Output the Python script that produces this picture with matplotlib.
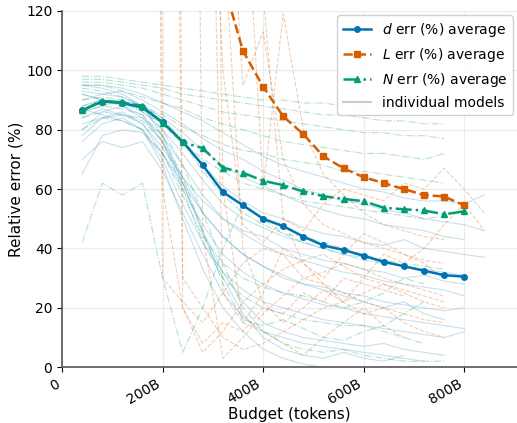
import matplotlib
matplotlib.use("Agg")
import matplotlib.pyplot as plt
from matplotlib.lines import Line2D
from matplotlib.ticker import FuncFormatter

# ---- data ----
budget = [40, 80, 120, 160, 200, 240, 280, 320, 360, 400,
          440, 480, 520, 560, 600, 640, 680, 720, 760, 800]

d_avg = [86.5, 89.5, 89.0, 87.5, 82.5, 76.0, 68.0, 59.0, 54.5, 50.0,
         47.5, 44.0, 41.0, 39.5, 37.5, 35.5, 34.0, 32.5, 31.0, 30.5]
L_avg = [2500, 1500, 900, 600, 400, 260, 180, 130, 106.5, 94.5,
         84.5, 78.5, 71.0, 67.0, 64.0, 62.0, 60.0, 58.0, 57.5, 54.5]
N_avg = [86.5, 89.8, 89.2, 88.0, 82.3, 75.8, 73.8, 67.2, 65.5, 62.8,
         61.3, 59.2, 57.6, 56.7, 55.9, 53.7, 53.2, 52.8, 51.5, 52.5]

# individual models (values on the 40B budget grid, starting at 40B)
d_models = [
    [95, 95, 94, 92, 89, 86, 83, 79, 75, 71, 68, 66, 64, 62, 60, 59, 57, 56, 56, 55, 58],
    [93, 92, 93, 90, 86, 82, 77, 73, 70, 66, 63, 60, 58, 56, 55, 53, 52, 50, 49, 48, 46],
    [90, 92, 91, 88, 84, 79, 73, 68, 64, 61, 58, 55, 53, 51, 50, 48, 47, 46, 44, 43],
    [88, 90, 89, 87, 82, 76, 68, 61, 56, 52, 50, 47, 45, 44, 42, 41, 43, 40, 39, 38, 37],
    [86, 88, 90, 86, 80, 72, 63, 55, 50, 47, 44, 42, 40, 38, 37, 36, 34, 33, 32, 31],
    [84, 87, 85, 84, 78, 68, 58, 50, 45, 41, 38, 36, 34, 32, 31, 29, 28, 27, 26, 24],
    [80, 86, 88, 84, 76, 64, 52, 44, 38, 34, 31, 28, 27, 25, 24, 22, 21, 20, 19, 20],
    [78, 84, 86, 82, 72, 60, 48, 38, 32, 28, 25, 23, 21, 20, 18, 17, 16, 15, 14, 13],
    [76, 82, 84, 80, 70, 55, 42, 32, 26, 22, 20, 18, 16, 15, 14, 13, 12, 11, 10, 12],
    [92, 90, 88, 85, 76, 62, 46, 32, 22, 15, 12, 10, 9, 8, 7, 8, 6, 5, 4],
    [70, 76, 74, 76, 66, 52, 38, 25, 17, 12, 10, 8, 7, 6, 5, 4, 3, 2],
    [87, 85, 83, 80, 68, 50, 33, 20, 12, 6, 3, 1, 0],
    [95, 94, 92, 88, 78, 62, 45, 30, 18, 10, 6, 4, 3, 5, 3, 2, 4],
    [82, 84, 85, 82, 74, 64, 56, 50, 46, 44, 40, 38, 36, 35, 33, 32, 30, 31, 29, 28],
    [65, 78, 80, 79, 72, 62, 52, 44, 38, 34, 30, 28, 26, 24, 22, 20, 22, 18, 16],
]
L_models = [
    [5000, 4000, 2500, 900, 30, 22, 15, 25, 35, 40, 38, 30, 28, 25, 22, 20, 18, 16, 15],
    [6000, 4000, 3000, 1500, 1200, 20, 5, 12, 22, 28, 33, 36, 38, 34, 30, 28, 25, 22, 20],
    [3000, 2500, 2000, 1500, 1000, 600, 45, 3, 10, 18, 24, 30, 32, 35, 33, 30, 28, 26, 24],
    [8000, 5000, 3000, 2000, 1500, 800, 500, 60, 15, 25, 40, 35, 30, 38, 45, 42, 38, 35, 30],
    [2000, 1500, 1200, 1000, 800, 500, 300, 200, 95, 113, 70, 55, 48, 45, 42, 40, 38, 36, 35],
    [2500, 2000, 1500, 1200, 900, 700, 500, 300, 180, 60, 119, 80, 65, 58, 52, 48, 46, 44, 43],
    [3000, 2000, 1500, 1000, 700, 400, 250, 150, 40, 22, 15, 20, 26, 22, 30, 38, 35, 40, 48, 55, 46],
    [1500, 1200, 1000, 800, 600, 400, 250, 100, 48, 42, 50, 46, 55, 60, 58, 56, 62, 60, 67, 60, 52],
    [4000, 3000, 2000, 1200, 600, 30, 20, 10, 6, 8, 12, 16, 20, 22, 25, 28, 26, 24, 22],
    [3000, 2000, 1500, 1000, 700, 450, 280, 180, 150, 125, 50, 35, 28, 22, 18, 20, 15, 12, 10],
    [2000, 1800, 1500, 1200, 900, 700, 300, 25, 15, 12, 8, 4, 10, 15, 20, 14, 10],
    [3000, 2500, 2000, 1500, 60, 20, 8, 15, 12, 20, 18, 25, 22, 30, 28, 26, 24],
]
N_models = [
    [98, 98, 97, 96, 95, 94, 93, 92, 91, 90, 90, 89, 89, 88, 88, 87, 87, 86, 86],
    [97, 97, 96, 95, 94, 92, 91, 90, 89, 88, 87, 86, 85, 85, 84, 83, 83, 82, 82],
    [96, 96, 95, 94, 92, 90, 88, 86, 85, 84, 83, 82, 81, 80, 79, 79, 78, 78, 77],
    [95, 95, 93, 91, 89, 87, 84, 82, 80, 78, 76, 75, 74, 73, 72, 72, 71, 70, 72],
    [94, 93, 91, 88, 85, 81, 78, 75, 73, 72, 70, 69, 68, 66, 66, 65, 64, 63, 62],
    [92, 90, 89, 86, 82, 76, 70, 66, 62, 60, 58, 56, 55, 54, 53, 52, 51, 50, 51],
    [42, 62, 58, 62, 30, 5, 20, 40, 55, 50, 45, 42, 40, 38, 36, 35, 34, 33],
    [88, 90, 89, 87, 80, 68, 52, 35, 20, 12, 8, 6, 5, 6, 4, 3, 2, 2, 2],
    [86, 88, 87, 85, 78, 64, 46, 28, 16, 14, 16, 13, 10, 9, 12, 14, 18, 22],
    [84, 86, 85, 83, 76, 60, 42, 30, 24, 20, 18, 16, 15, 14, 14, 12, 10, 8],
    [80, 84, 83, 80, 72, 58, 44, 35, 30, 27, 25, 24, 22, 20, 22, 25, 30, 28],
    [90, 91, 90, 88, 84, 76, 66, 58, 52, 48, 45, 44, 42, 40, 38, 36, 35, 34, 33],
]

x_ticks = [0, 200, 400, 600, 800]
y_ticks = [0, 20, 40, 60, 80, 100, 120]

# ---- style ----
c_d, c_L, c_N = "#0173B2", "#D55E00", "#029E73"

fig = plt.figure(figsize=(5.17, 4.23), dpi=100)
ax = fig.add_axes([0.12, 0.132, 0.88, 0.842])

grid = [40 * (i + 1) for i in range(25)]
for vals in d_models:
    ax.plot(grid[:len(vals)], vals, color=c_d, lw=0.8, alpha=0.22, ls="-")
for vals in L_models:
    ax.plot(grid[:len(vals)], vals, color=c_L, lw=0.8, alpha=0.3, ls="--")
for vals in N_models:
    ax.plot(grid[:len(vals)], vals, color=c_N, lw=0.8, alpha=0.3, ls="-.")

ax.plot(budget, d_avg, color=c_d, lw=1.8, marker="o", ms=4, ls="-",
        label="$d$ err (%) average", zorder=5)
ax.plot(budget, L_avg, color=c_L, lw=1.8, marker="s", ms=4, ls="--",
        label="$L$ err (%) average", zorder=5)
ax.plot(budget, N_avg, color=c_N, lw=1.8, marker="^", ms=4, ls="-.",
        label="$N$ err (%) average", zorder=5)

ax.set_xlim(0, 905)
ax.set_ylim(0, 120)
ax.set_xticks(x_ticks)
ax.xaxis.set_major_formatter(FuncFormatter(lambda v, p: "0" if v == 0 else f"{int(v)}B"))
ax.set_yticks(y_ticks)
for lab in ax.get_xticklabels():
    lab.set_rotation(30)
    lab.set_ha("right")
ax.tick_params(labelsize=10)
ax.grid(True, color="#ececec", lw=0.8)
ax.set_axisbelow(True)
for s in ["top", "right"]:
    ax.spines[s].set_visible(False)
for s in ["left", "bottom"]:
    ax.spines[s].set_color("#555555")
    ax.spines[s].set_linewidth(1.2)

ax.set_xlabel("Budget (tokens)", fontsize=11, labelpad=0)
ax.set_ylabel("Relative error (%)", fontsize=11, labelpad=2)

handles, labels = ax.get_legend_handles_labels()
handles.append(Line2D([0], [0], color="#cccccc", lw=1.5))
labels.append("individual models")
ax.legend(handles, labels, loc="upper right", fontsize=10, framealpha=0.9,
          edgecolor="#cccccc", borderaxespad=0.3)

fig.savefig("out.png", dpi=100)
